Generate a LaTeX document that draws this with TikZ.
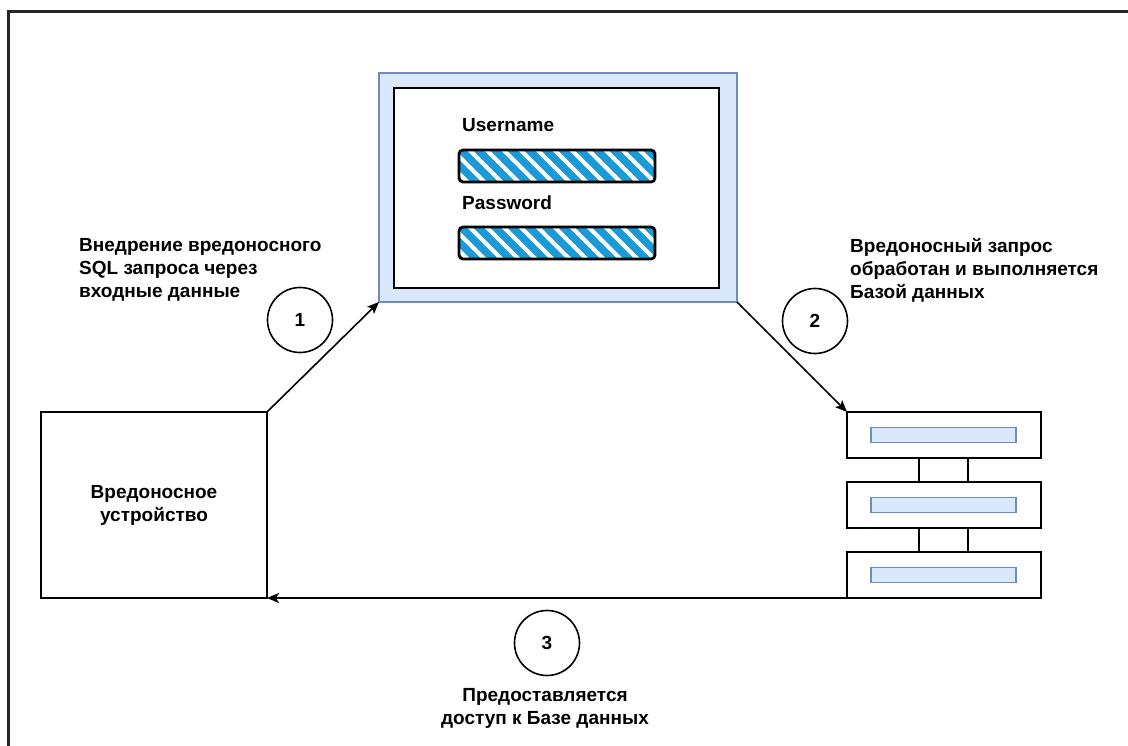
\documentclass[tikz,border=0pt]{standalone}
\usepackage{fontspec}
\setmainfont{Liberation Sans}
\usetikzlibrary{arrows.meta}
\definecolor{panelfill}{HTML}{DAE8FC}
\definecolor{panelline}{HTML}{6C8EBF}
\definecolor{hatch}{HTML}{1A9BD7}
\tikzset{
  box/.style={draw, line width=1.6pt, inner sep=0pt, outer sep=0pt, fill=white},
  panel/.style={draw=panelline, fill=panelfill, line width=1.4pt, inner sep=0pt, outer sep=0pt},
  field/.style={draw, line width=2.8pt, rounded corners=4pt, inner sep=0pt, outer sep=0pt,
    minimum width=196pt, minimum height=32pt,
    path picture={
      \foreach \k in {0,...,14}
        \draw[hatch, line width=7.5pt]
          ([xshift=\k*17pt-36pt, yshift=4pt]path picture bounding box.north west) -- ++(44,44);
    }},
  label/.style={font=\fontsize{19}{23}\selectfont\bfseries, inner sep=0pt},
  step circle/.style={draw, circle, line width=1.6pt, minimum size=65pt, inner sep=0pt,
    font=\fontsize{19}{23}\selectfont\bfseries},
  link/.style={line width=1.6pt, -{Stealth[length=12pt, width=10pt, inset=3pt]}},
}
\begin{document}
\begin{tikzpicture}[x=1pt, y=-1pt]
\useasboundingbox (0,0) rectangle (1128,746);
\fill[white] (0,0) rectangle (1128,746);
% outer frame
\draw[line width=2.5pt, black!85] (8.5,746) -- (8.5,11.5) -- (1128,11.5);

% login window
\node[panel, minimum width=358pt, minimum height=229pt] (screen) at (558,187.5) {};
\node[box, line width=1.5pt, minimum width=325pt, minimum height=200pt] (form) at (556.5,188) {};
\node[label, anchor=base west] (ulabel) at (462,132) {Username};
\node[field] (ufield) at (557,166) {};
\node[label, anchor=base west] (plabel) at (462,210) {Password};
\node[field] (pfield) at (557,243) {};

% attacker device
\node[box, minimum width=226pt, minimum height=186pt, align=center,
      font=\fontsize{19}{23}\selectfont\bfseries] (device) at (154,505) {Вредоносное\\устройство};

% database
\foreach \i/\y in {1/435, 2/505, 3/575} {
  \node[box, minimum width=194pt, minimum height=46pt] (db\i) at (944,\y) {};
  \node[panel, line width=1.2pt, minimum width=145pt, minimum height=15pt] (bar\i) at (943.5,\y) {};
}
\foreach \a/\b in {1/2, 2/3} {
  \draw[line width=1.6pt] ([xshift=-25pt]db\a.south) -- ([xshift=-25pt]db\b.north);
  \draw[line width=1.6pt] ([xshift=24pt]db\a.south) -- ([xshift=24pt]db\b.north);
}

% flow
\draw[link] (device.north east) -- (screen.south west);
\draw[link] (screen.south east) -- (db1.north west);
\draw[link] (db3.south west) -- (device.south east);

\node[step circle] (s1) at (300,320) {1};
\node[step circle] (s2) at (815,321) {2};
\node[step circle] (s3) at (547,643) {3};

\node[label, anchor=north west, align=left] (t1) at (79,238)
  {Внедрение вредоносного\\SQL запроса через\\входные данные};
\node[label, anchor=north west, align=left] (t2) at (850,238)
  {Вредоносный запрос\\обработан и выполняется\\Базой данных};
\node[label, anchor=north, align=center] (t3) at (545,688)
  {Предоставляется\\доступ к Базе данных};
\end{tikzpicture}
\end{document}
